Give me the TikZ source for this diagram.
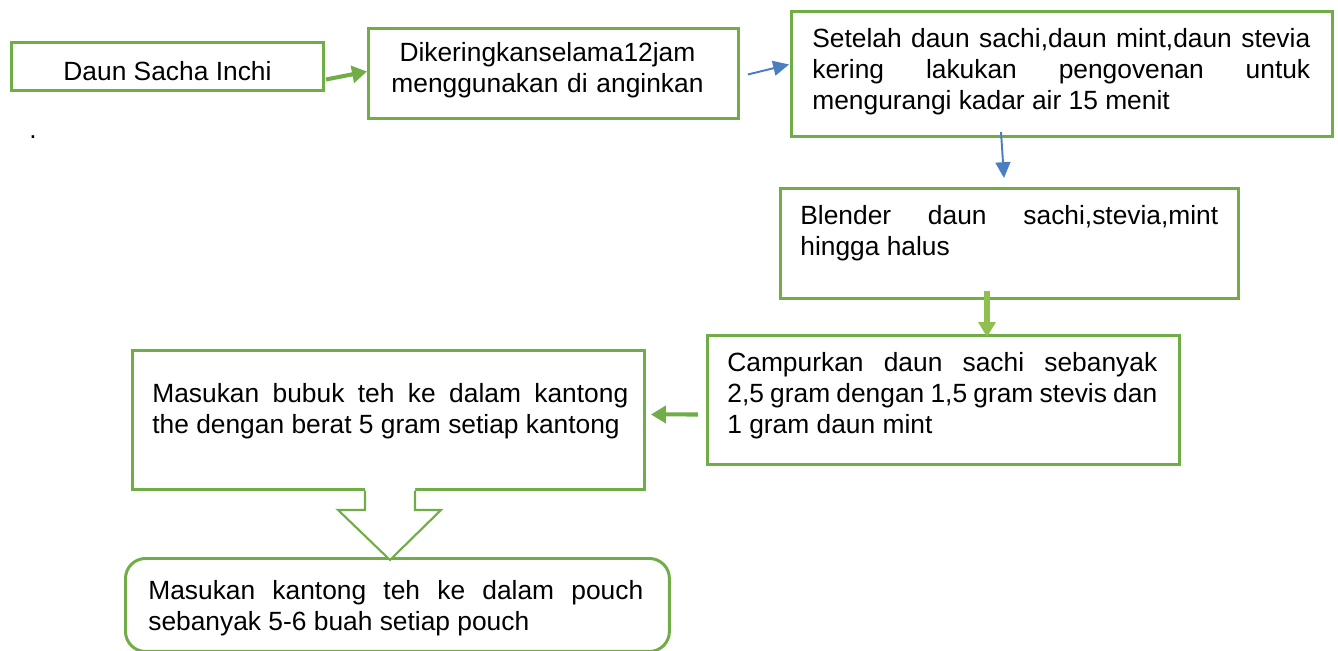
\documentclass[tikz,border=0pt]{standalone}
\usepackage{fontspec}
\setmainfont{Liberation Sans}
\usetikzlibrary{arrows.meta,calc}
\definecolor{grn}{HTML}{70AD47}
\definecolor{lgrn}{HTML}{8FBF4F}
\definecolor{blu}{HTML}{4A7EC0}
\tikzset{box/.style={draw=grn, line width=1.7pt, inner sep=0pt, anchor=north west},
  txt/.style={inner sep=0pt, anchor=north west, font=\fontsize{15}{17.6}\selectfont, align=justify},
  garrow/.style={grn, line width=2.3pt, -{Triangle[length=8.5pt,width=9.6pt]}},
  barrow/.style={blu, line width=1.1pt, -{Triangle[length=9pt,width=8.5pt]}},
  larrow/.style={lgrn, line width=2.9pt, -{Triangle[length=8.5pt,width=9.6pt]}},
  blockarr/.style={draw=grn, line width=1.2pt, line join=miter}}

\begin{document}
\begin{tikzpicture}[x=0.02cm, y=-0.02cm]
  \useasboundingbox (0,0) rectangle (1338,651);
  \node[box, minimum width=6.24cm, minimum height=0.96cm] (a) at (10,41) {};
  \node[box, minimum width=7.4cm, minimum height=1.8cm] (b) at (367,27) {};
  \node[box, minimum width=10.82cm, minimum height=2.5cm] (c) at (790,10) {};
  \node[box, minimum width=9.16cm, minimum height=2.2cm] (d) at (779,187) {};
  \node[box, minimum width=9.44cm, minimum height=2.58cm] (e) at (706,334) {};
  \node[box, minimum width=10.24cm, minimum height=2.78cm] (f) at (131,349) {};
  \node[box, rounded corners=0.4cm, minimum width=10.88cm, minimum height=1.86cm] (g) at (124,557) {};

  \node[txt, anchor=center, align=center] (ta) at ($(a.center)+(0,5)$) {Daun Sacha Inchi};
  \node[txt, anchor=north, align=center, text width=6.6cm] (tb) at ($(b.north)+(-6,15.5)$)
    {Dikeringkanselama12jam\\menggunakan di anginkan};
  \node[txt, text width=9.96cm] (tc) at ($(c.north west)+(22,18.5)$)
    {Setelah daun sachi,daun mint,daun stevia\linebreak kering lakukan pengovenan untuk\linebreak mengurangi kadar air 15 menit};
  \node[txt, text width=8.36cm] (td) at ($(d.north west)+(21,18.5)$)
    {Blender daun sachi,stevia,mint\linebreak hingga halus};
  \node[txt, text width=8.6cm] (te) at ($(e.north west)+(21,18.5)$)
    {Campurkan daun sachi sebanyak\linebreak 2,5 gram dengan 1,5 gram stevis dan\linebreak 1 gram daun mint};
  \node[txt, text width=9.52cm] (tf) at ($(f.north west)+(21,34.5)$)
    {Masukan bubuk teh ke dalam kantong\linebreak the dengan berat 5 gram setiap kantong};
  \node[txt, text width=9.9cm] (tg) at ($(g.north west)+(24,23.5)$)
    {Masukan kantong teh ke dalam pouch\linebreak sebanyak 5-6 buah setiap pouch};
  \node[txt, anchor=center] (dot) at (33,137) {.};

  \draw[garrow] ($(a.east)+(1,13)$) -- ($(b.west)+(0,-2)$);
  \draw[barrow] ($(b.east)+(8,1)$) -- ($(c.west)+(-1,-9.5)$);
  \draw[barrow] ($(c.south west)+(211,-6)$) -- ($(d.north west)+(225,-9)$);
  \draw[larrow] ($(d.south west)+(208,-9)$) -- ($(e.north west)+(281,3)$);
  \draw[garrow] ($(e.west)+(-8,14.5)$) -- ($(f.east)+(5,-5.5)$);

  \fill[white] ($(f.south west)+(234,-3)$) -- ++(0,22) -- ++(-27,0) -- ++(52,50)
    -- ++(51,-50) -- ++(-26,0) -- ++(0,-22) -- cycle;
  \draw[blockarr] ($(f.south west)+(234,0)$) -- ++(0,19) -- ++(-27,0) -- ++(52,50)
    -- ++(51,-50) -- ++(-26,0) -- ++(0,-19);
\end{tikzpicture}
\end{document}
